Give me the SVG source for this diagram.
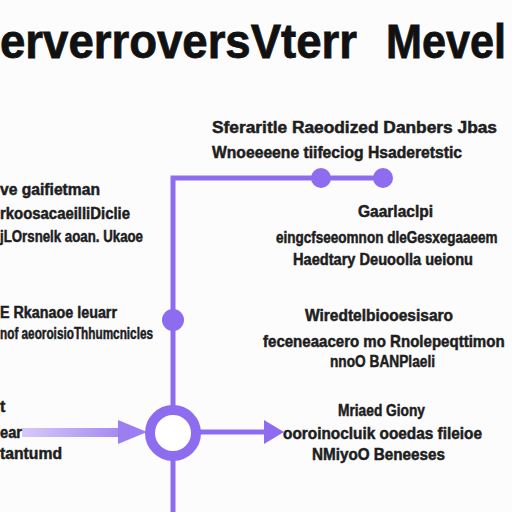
<svg xmlns="http://www.w3.org/2000/svg" width="512" height="512" viewBox="0 0 512 512">
<defs>
<style>
.t{font-family:"Liberation Sans",Arial,sans-serif;font-weight:bold;fill:#1e1e1e;stroke:#1e1e1e;stroke-width:0.5;font-size:16px}
.title{font-family:"Liberation Sans",Arial,sans-serif;font-weight:bold;fill:#111;stroke:#111;stroke-width:0.8;font-size:49px}
.ln{stroke:#8d6cf0;stroke-width:5;fill:none}
.dot{fill:#8d6cf0}
</style>
<linearGradient id="g1" gradientUnits="userSpaceOnUse" x1="22" y1="0" x2="140" y2="0">
<stop offset="0" stop-color="#d6c9f8"/>
<stop offset="1" stop-color="#9b7ef0"/>
</linearGradient>
</defs>
<rect width="512" height="512" fill="#fcfcfd"/>
<g id="title">
<text class="title" x="0" y="58" textLength="357" lengthAdjust="spacingAndGlyphs">erverroversVterr</text>
<text class="title" transform="translate(386,58) scale(0.8,1)" x="0" y="0" textLength="150" lengthAdjust="spacingAndGlyphs">Mevel</text>
</g>
<g id="connectors">
<path class="ln" d="M173 512V178H383"/>
<rect x="22" y="428" width="100" height="9" fill="url(#g1)"/>
<polygon points="118,420 147,432 118,444" fill="#9b7ef0"/>
<path class="ln" d="M196 432H268"/>
<polygon points="264,420 284,432 264,444" class="dot"/>
</g>
<g id="dot-top1"><circle class="dot" cx="321" cy="178" r="10"/></g>
<g id="dot-top2"><circle class="dot" cx="383" cy="178" r="10"/></g>
<g id="dot-mid"><circle class="dot" cx="173" cy="320" r="11"/></g>
<g id="ring"><circle cx="173" cy="433" r="23" fill="#fff" stroke="#8d6cf0" stroke-width="10"/></g>
<g id="block-top">
<text class="t" x="212" y="133" textLength="285" lengthAdjust="spacingAndGlyphs">Sferaritle Raeodized Danbers Jbas</text>
<text class="t" x="212" y="158" textLength="250" lengthAdjust="spacingAndGlyphs">Wnoeeeene tiifeciog Hsaderetstic</text>
</g>
<g id="block-left1">
<text class="t" x="0" y="195" textLength="100" lengthAdjust="spacingAndGlyphs">ve gaifietman</text>
<text class="t" x="0" y="219" textLength="130" lengthAdjust="spacingAndGlyphs">rkoosacaeilliDiclie</text>
<text class="t" x="0" y="242" textLength="143" lengthAdjust="spacingAndGlyphs">jLOrsnelk aoan. Ukaoe</text>
</g>
<g id="block-right1">
<text class="t" x="358" y="217" textLength="75" lengthAdjust="spacingAndGlyphs">Gaarlaclpi</text>
<text class="t" transform="translate(276,243) scale(0.8,1)" x="0" y="0" textLength="277" lengthAdjust="spacingAndGlyphs">eingcfseeomnon dleGesxegaaeem</text>
<text class="t" x="293" y="265" textLength="180" lengthAdjust="spacingAndGlyphs">Haedtary Deuoolla ueionu</text>
</g>
<g id="block-left2">
<text class="t" x="0" y="318" textLength="117" lengthAdjust="spacingAndGlyphs">E Rkanaoe leuarr</text>
<text class="t" x="0" y="339" textLength="153" lengthAdjust="spacingAndGlyphs">nof aeoroisioThhumcnicles</text>
</g>
<g id="block-right2">
<text class="t" x="305" y="321" textLength="148" lengthAdjust="spacingAndGlyphs">Wiredtelbiooesisaro</text>
<text class="t" transform="translate(263,347) scale(0.8,1)" x="0" y="0" textLength="302" lengthAdjust="spacingAndGlyphs">feceneaacero mo Rnolepeqttimon</text>
<text class="t" x="330" y="367" textLength="105" lengthAdjust="spacingAndGlyphs">nnoO BANPlaeli</text>
</g>
<g id="block-left3">
<text class="t" x="0" y="412" font-size="12">t</text>
<text class="t" x="0" y="438" textLength="22" lengthAdjust="spacingAndGlyphs">ear</text>
<text class="t" x="0" y="459" textLength="62" lengthAdjust="spacingAndGlyphs">tantumd</text>
</g>
<g id="block-right3">
<text class="t" x="338" y="416" textLength="87" lengthAdjust="spacingAndGlyphs">Mriaed Giony</text>
<text class="t" x="283" y="439" textLength="199" lengthAdjust="spacingAndGlyphs">ooroinocluik ooedas fileioe</text>
<text class="t" x="312" y="460" textLength="133" lengthAdjust="spacingAndGlyphs">NMiyoO Beneeses</text>
</g>
</svg>
